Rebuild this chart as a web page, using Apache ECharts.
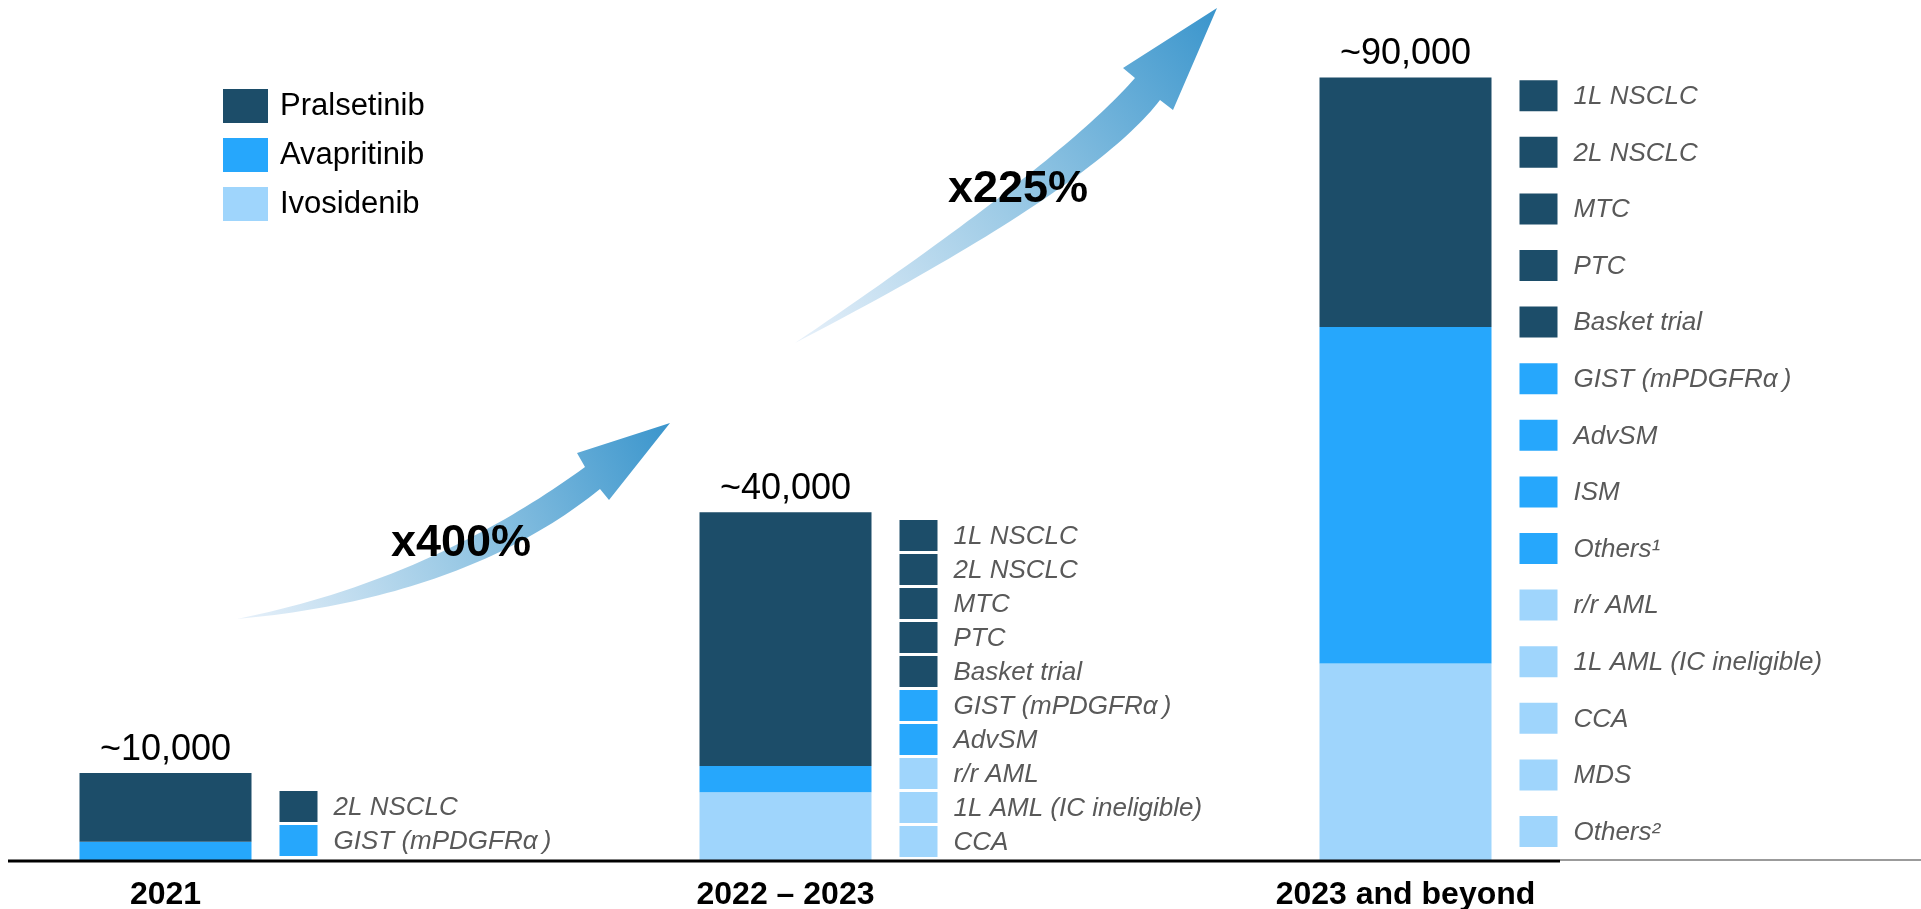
<!DOCTYPE html>
<html>
<head>
<meta charset="utf-8">
<title>Patient reach by period</title>
<script src="https://cdn.jsdelivr.net/npm/echarts@6/dist/echarts.min.js"></script>
<style>
  html, body { margin: 0; padding: 0; background: #ffffff; }
  #chart { width: 1921px; height: 909px; }
</style>
</head>
<body>
<div id="chart"></div>
<script>
// Periods on the horizontal axis
const periods = ['2021', '2022 – 2023', '2023 and beyond'];

// Patients per drug in each period (stack totals: ~10,000 / ~40,000 / ~90,000)
const pralsetinib = [7900, 29200, 28700];
const avapritinib = [2100, 3000, 38700];
const ivosidenib  = [0, 7800, 22600];

// Indications listed beside each bar, with the drug they belong to
const indications2021 = [
  ['2L NSCLC', 'Pralsetinib'],
  ['GIST (mPDGFRα\u2009)', 'Avapritinib']
];
const indications2022 = [
  ['1L NSCLC', 'Pralsetinib'],
  ['2L NSCLC', 'Pralsetinib'],
  ['MTC', 'Pralsetinib'],
  ['PTC', 'Pralsetinib'],
  ['Basket trial', 'Pralsetinib'],
  ['GIST (mPDGFRα\u2009)', 'Avapritinib'],
  ['AdvSM', 'Avapritinib'],
  ['r/r AML', 'Ivosidenib'],
  ['1L AML (IC ineligible)', 'Ivosidenib'],
  ['CCA', 'Ivosidenib']
];
const indications2023 = [
  ['1L NSCLC', 'Pralsetinib'],
  ['2L NSCLC', 'Pralsetinib'],
  ['MTC', 'Pralsetinib'],
  ['PTC', 'Pralsetinib'],
  ['Basket trial', 'Pralsetinib'],
  ['GIST (mPDGFRα\u2009)', 'Avapritinib'],
  ['AdvSM', 'Avapritinib'],
  ['ISM', 'Avapritinib'],
  ['Others¹', 'Avapritinib'],
  ['r/r AML', 'Ivosidenib'],
  ['1L AML (IC ineligible)', 'Ivosidenib'],
  ['CCA', 'Ivosidenib'],
  ['MDS', 'Ivosidenib'],
  ['Others²', 'Ivosidenib']
];

// Growth callouts between periods
const growthLabels = ['x400%', 'x225%'];

const FONT = 'Arial, "Liberation Sans", Helvetica, sans-serif';
const COLORS = {
  Pralsetinib: '#1c4d69',
  Avapritinib: '#26a7fc',
  Ivosidenib: '#9fd5fc'
};

function totalAt(i) {
  return pralsetinib[i] + avapritinib[i] + ivosidenib[i];
}

const chart = echarts.init(document.getElementById('chart'), null, { renderer: 'canvas' });

const BAR_WIDTH = 172;

function barSeries(name, values, extra) {
  return Object.assign({
    name: name,
    type: 'bar',
    stack: 'patients',
    barWidth: BAR_WIDTH,
    data: values,
    itemStyle: { color: COLORS[name] },
    emphasis: { disabled: true }
  }, extra || {});
}

chart.setOption({
  animation: false,
  backgroundColor: '#ffffff',
  grid: {
    left: -144.5, right: 205.5, top: 77.4, bottom: 49,
    outerBoundsMode: 'none'
  },
  legend: {
    data: ['Pralsetinib', 'Avapritinib', 'Ivosidenib'],
    orient: 'vertical',
    left: 223,
    top: 89,
    padding: 0,
    icon: 'rect',
    itemWidth: 45,
    itemHeight: 34,
    itemGap: 15,
    selectedMode: false,
    textStyle: {
      fontFamily: FONT,
      fontSize: 31,
      color: '#000000',
      lineHeight: 29,
      padding: [5, 0, 0, 7]
    }
  },
  xAxis: {
    type: 'category',
    data: periods,
    axisLine: { show: false },
    axisTick: { show: false },
    axisLabel: {
      interval: 0,
      margin: 19,
      fontFamily: FONT,
      fontSize: 32,
      fontWeight: 'bold',
      color: '#000000'
    }
  },
  yAxis: { type: 'value', min: 0, max: 90000, show: false },
  series: [
    barSeries('Ivosidenib', ivosidenib),
    barSeries('Avapritinib', avapritinib),
    barSeries('Pralsetinib', pralsetinib, {
      label: {
        show: true,
        position: 'top',
        distance: 5,
        fontFamily: FONT,
        fontSize: 36,
        color: '#000000',
        formatter: function (p) {
          return '~' + totalAt(p.dataIndex).toLocaleString('en-US');
        }
      }
    })
  ]
});

// ---- Decorations: baseline, growth arrows, indication lists ----

function quadPoints(p0, c, p1, n) {
  const pts = [];
  for (let k = 0; k <= n; k++) {
    const t = k / n, u = 1 - t;
    pts.push([
      u * u * p0[0] + 2 * u * t * c[0] + t * t * p1[0],
      u * u * p0[1] + 2 * u * t * c[1] + t * t * p1[1]
    ]);
  }
  return pts;
}

function arrowPolygon(a) {
  const upper = quadPoints(a.tail, a.upperCtrl, a.shaftTop, 48);
  const lower = quadPoints(a.shaftBottom, a.lowerCtrl, a.tail, 48);
  return upper.concat([a.headLeft, a.tip, a.headRight]).concat(lower);
}

const arrowShapes = [
  {
    tail: [237, 619], upperCtrl: [430, 580], shaftTop: [585, 467],
    headLeft: [577, 453], tip: [670, 423], headRight: [609, 500],
    shaftBottom: [600, 489], lowerCtrl: [465, 598],
    label: [461, 544]
  },
  {
    tail: [795, 343], upperCtrl: [1061, 163], shaftTop: [1135, 78],
    headLeft: [1123, 68], tip: [1217, 8], headRight: [1173, 110],
    shaftBottom: [1160, 100], lowerCtrl: [1092, 189],
    label: [1018, 190]
  }
];

const graphics = [];

// Baseline under the bars, with a lighter run to the right edge
const base = chart.convertToPixel({ xAxisIndex: 0, yAxisIndex: 0 }, [0, 0]);
const baseY = base[1];
graphics.push({
  type: 'line', silent: true, z: 10,
  shape: { x1: 8, y1: baseY + 1, x2: 1560, y2: baseY + 1 },
  style: { stroke: '#000000', lineWidth: 3 }
});
graphics.push({
  type: 'line', silent: true, z: 9,
  shape: { x1: 1560, y1: baseY, x2: 1921, y2: baseY },
  style: { stroke: '#7a7a7a', lineWidth: 1.5 }
});

arrowShapes.forEach(function (a, i) {
  graphics.push({
    type: 'polygon', silent: true, z: 1,
    shape: { points: arrowPolygon(a) },
    style: {
      fill: new echarts.graphic.LinearGradient(0, 1, 1, 0, [
        { offset: 0, color: '#e8f1fa' },
        { offset: 0.5, color: '#96c7e4' },
        { offset: 1, color: '#3a95cc' }
      ])
    }
  });
  graphics.push({
    type: 'text', silent: true, z: 20,
    x: a.label[0], y: a.label[1],
    style: {
      text: growthLabels[i],
      fontFamily: FONT,
      fontSize: 45,
      fontWeight: 'bold',
      fill: '#000000',
      align: 'center',
      verticalAlign: 'middle'
    }
  });
});

// Indication lists stacked upward from the baseline beside each bar
const lists = [indications2021, indications2022, indications2023];
const listLayout = [
  { pitch: 34, bottomGap: 4 },
  { pitch: 34, bottomGap: 3 },
  { pitch: 56.6, bottomGap: 13 }
];
const SW_W = 38, SW_H = 31;

lists.forEach(function (items, p) {
  const cx = chart.convertToPixel({ xAxisIndex: 0, yAxisIndex: 0 }, [p, 0])[0];
  const x0 = cx + BAR_WIDTH / 2 + 28;
  const n = items.length;
  const lay = listLayout[p];
  items.forEach(function (item, i) {
    const top = baseY - lay.bottomGap - SW_H - (n - 1 - i) * lay.pitch;
    graphics.push({
      type: 'rect', silent: true, z: 5,
      shape: { x: x0, y: top, width: SW_W, height: SW_H },
      style: { fill: COLORS[item[1]] }
    });
    graphics.push({
      type: 'text', silent: true, z: 5,
      x: x0 + SW_W + 16, y: top + SW_H / 2 + 1,
      style: {
        text: item[0],
        fontFamily: FONT,
        fontSize: 26,
        fontStyle: 'italic',
        fill: '#595959',
        align: 'left',
        verticalAlign: 'middle'
      }
    });
  });
});

chart.setOption({ graphic: graphics });
</script>
</body>
</html>
